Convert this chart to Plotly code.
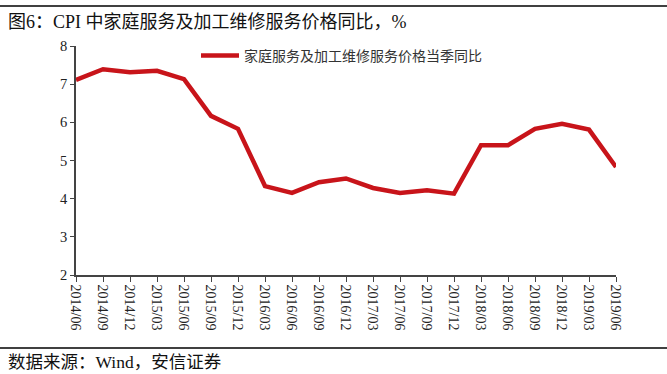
import plotly.graph_objects as go

categories = ["2014/06", "2014/09", "2014/12", "2015/03", "2015/06", "2015/09", "2015/12",
              "2016/03", "2016/06", "2016/09", "2016/12", "2017/03", "2017/06", "2017/09",
              "2017/12", "2018/03", "2018/06", "2018/09", "2018/12", "2019/03", "2019/06"]
values = [7.11, 7.39, 7.31, 7.35, 7.13, 6.17, 5.83,
          4.33, 4.15, 4.43, 4.53, 4.28, 4.15, 4.22,
          4.13, 5.40, 5.40, 5.83, 5.96, 5.81, 4.83]
series_name = "家庭服务及加工维修服务价格当季同比"
title_text = "图6：CPI 中家庭服务及加工维修服务价格同比，%"
source_text = "数据来源：Wind，安信证券"
y_ticks = [2, 3, 4, 5, 6, 7, 8]

W, H = 667, 374
L, R, T, B = 76, 51, 46, 99
pw, ph = W - L - R, H - T - B

def px(x):
    return (x - L) / pw

def py(y):
    return (H - B - y) / ph

serif = "Liberation Serif, Times New Roman, Noto Sans CJK SC, serif"
sans = "Noto Sans CJK SC, sans-serif"

fig = go.Figure()
fig.add_trace(go.Scatter(
    x=list(range(len(categories))), y=values, mode="lines", name=series_name,
    line=dict(color="#C8141A", width=4.5, shape="linear"),
))

fig.update_layout(
    width=W, height=H,
    margin=dict(l=L, r=R, t=T, b=B),
    paper_bgcolor="white", plot_bgcolor="white",
    showlegend=True,
    legend=dict(x=px(196), y=py(56), xanchor="left", yanchor="middle",
                bgcolor="rgba(0,0,0,0)", font=dict(family=sans, size=14, color="#333333"),
                itemwidth=38),
    xaxis=dict(
        range=[0, len(categories) - 1],
        tickmode="array", tickvals=list(range(len(categories))), ticktext=categories,
        tickangle=90, ticks="outside", ticklen=5, tickcolor="#444444",
        showline=True, linecolor="#444444", linewidth=1.5,
        showgrid=False, zeroline=False,
        tickfont=dict(family=serif, size=14, color="#222222"),
    ),
    yaxis=dict(
        range=[2, 8], tickvals=y_ticks,
        ticks="outside", ticklen=4, tickcolor="#444444",
        showline=True, linecolor="#444444", linewidth=1.5,
        showgrid=False, zeroline=False,
        tickfont=dict(family=serif, size=14.5, color="#222222"),
    ),
    shapes=[
        dict(type="line", xref="paper", yref="paper", x0=px(0), x1=px(W), y0=py(6), y1=py(6),
             line=dict(color="black", width=1.5)),
        dict(type="line", xref="paper", yref="paper", x0=px(0), x1=px(W), y0=py(348), y1=py(348),
             line=dict(color="black", width=1.5)),
    ],
    annotations=[
        dict(text=title_text, xref="paper", yref="paper", x=px(6), y=py(22),
             xanchor="left", yanchor="middle", showarrow=False,
             font=dict(family=serif, size=18, color="#111111")),
        dict(text=source_text, xref="paper", yref="paper", x=px(6), y=py(362),
             xanchor="left", yanchor="middle", showarrow=False,
             font=dict(family=serif, size=17.5, color="#111111")),
    ],
)

fig.write_html("out.html", config={"displayModeBar": False},
               post_script="document.body.style.margin='0';document.body.style.padding='0';")
